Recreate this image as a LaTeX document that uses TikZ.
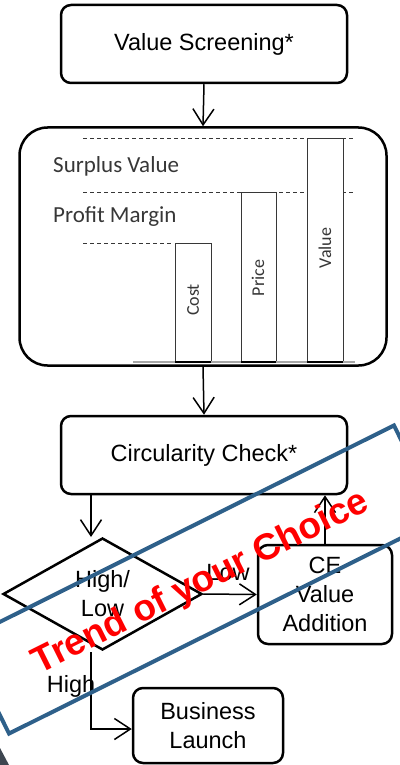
\documentclass[tikz,border=0pt]{standalone}
\usepackage{fontspec}
\setmainfont{Liberation Sans}
\newfontfamily\calfont{Carlito}
\usetikzlibrary{arrows.meta,shapes.geometric}
\definecolor{wmblue}{RGB}{46,96,138}
\definecolor{chartgray}{RGB}{55,55,55}
\definecolor{cornergray}{RGB}{62,70,80}
\tikzset{
  box/.style={draw, line width=2.5pt, rounded corners=10pt, align=center, inner sep=0pt, font=\fontsize{23.5}{29}\selectfont},
  flow/.style={line width=1.5pt, -{Straight Barb[length=16pt,width=21pt,line width=1.5pt]}},
  bar/.style={draw=chartgray, line width=1pt, fill=white},
  guide/.style={draw=chartgray, line width=1pt, dash pattern=on 4pt off 3pt},
  chartlabel/.style={text=chartgray, font=\calfont\fontsize{23}{26}\selectfont, anchor=west, inner sep=0pt},
  barlabel/.style={text=chartgray, font=\calfont\fontsize{18}{20}\selectfont, rotate=90, inner sep=0pt},
  edgelabel/.style={font=\fontsize{23.5}{29}\selectfont, inner sep=0pt}
}
\begin{document}
\begin{tikzpicture}[x=1pt,y=-1pt]
\useasboundingbox (0,0) rectangle (399,765);
% corner wedge
\fill[cornergray] (0,748) -- (9,765) -- (0,765) -- cycle;
% nodes
\node[box, minimum width=286pt, minimum height=78pt] (vs) at (204,44) {Value Screening*};
\node[box, rounded corners=28pt, minimum width=367pt, minimum height=238pt] (chart) at (203,246.5) {};
\node[box, minimum width=286pt, minimum height=78pt] (cc) at (204,455) {Circularity Check*};
\node[box, shape=diamond, rounded corners=0pt, aspect=2, minimum width=199pt, minimum height=112pt] (dec) at (102.5,594) {High/\\Low};
\node[box, minimum width=134pt, minimum height=99pt] (ce) at (325,594.5) {CE\\Value\\Addition};
\node[box, minimum width=150pt, minimum height=75pt] (bl) at (208,725.5) {Business\\Launch};
% chart content
\draw[guide] (83,138) -- (355,138);
\draw[guide] (83,192) -- (355,192);
\draw[guide] (83,243) -- (173,243);
\node[chartlabel] (sv) at (53,166) {Surplus Value};
\node[chartlabel] (pm) at (53,217) {Profit Margin};
\draw[bar] (175,243) rectangle (211,362);
\draw[bar] (241,192) rectangle (276,362);
\draw[bar] (307,138) rectangle (343,362);
\draw[gray!70, line width=2pt] (133,362) -- (355,362);
\draw[black, line width=1.5pt] (175,362) -- (211,362) (241,362) -- (276,362) (307,362) -- (343,362);
\node[barlabel] (lc) at (193,300) {Cost};
\node[barlabel] (lp) at (258,278) {Price};
\node[barlabel] (lv) at (325,248) {Value};
% connectors
\coordinate (d1) at (91,537);
\coordinate (d2) at (91,652);
\coordinate (bend) at (91,729);
\draw[flow] (vs.south) -- (chart.north);
\draw[flow] (chart.south) -- (cc.north);
\draw[flow] (cc.south -| d1) -- (d1);
\draw[flow] (dec.east) -- (ce.west);
\draw[flow] (ce.north) -- (ce.north |- cc.south);
\draw[flow] (d2) -- (bend) -- (bend -| bl.west);
\node[edgelabel] (low) at (228,573) {Low};
\node[edgelabel] (high) at (71,686) {High};
% watermark
\node[draw=wmblue, line width=4pt, minimum width=482pt, minimum height=104pt, rotate=26.5, inner sep=0pt] (wm) at (201.5,579.5) {};
\node[text=red, rotate=26.5, font=\bfseries\fontsize{37}{40}\selectfont, inner sep=0pt] (wmt) at (201,583) {Trend of your Choice};
\end{tikzpicture}
\end{document}
